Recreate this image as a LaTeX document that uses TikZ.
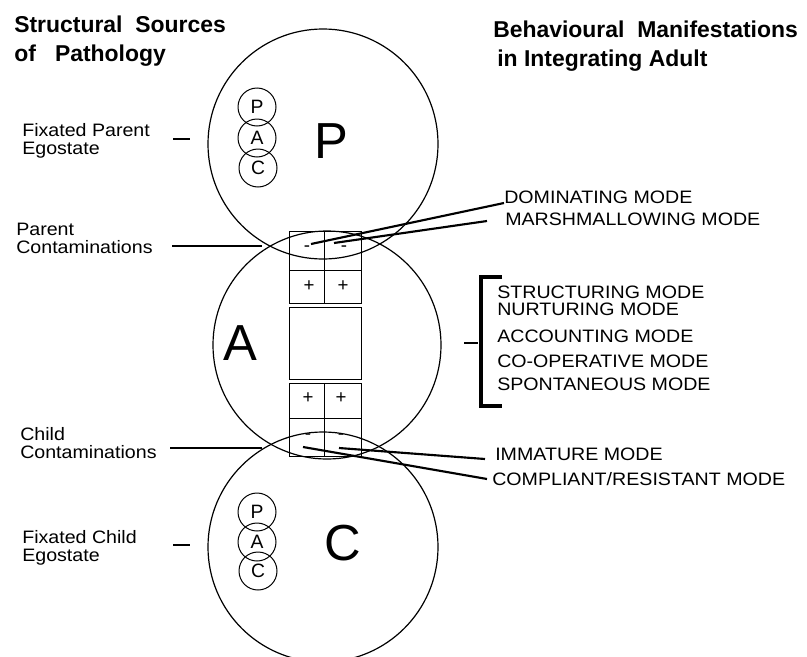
\documentclass[tikz,border=0pt]{standalone}
\usepackage{fontspec}
\setmainfont{Liberation Sans}
\newfontfamily\bodyfont{Liberation Sans}[FakeStretch=1.09]

\begin{document}
\begin{tikzpicture}[x=0.75pt, y=-0.75pt, font=\bodyfont\fontsize{13.5}{13.5}\selectfont]

        % Styles
        \tikzstyle{ego} = [circle, draw=black, line width=0.9pt, inner sep=0pt, outer sep=0pt]
        \tikzstyle{mini} = [circle, draw=black, line width=0.75pt, minimum size=28.5pt, inner sep=0pt, font=\normalfont\fontsize{14.5}{14.5}\selectfont]
        \tikzstyle{big} = [inner sep=0pt, font=\normalfont\fontsize{38}{38}\selectfont]
        \tikzstyle{head} = [anchor=north west, inner sep=0pt, align=left, font=\normalfont\bfseries\fontsize{17.2}{21.5}\selectfont]
        \tikzstyle{label} = [anchor=north west, inner sep=0pt, align=left]
        \tikzstyle{mode} = [anchor=base west, inner sep=0pt]
        \tikzstyle{sign} = [inner sep=0pt, font=\normalfont\fontsize{14}{14}\selectfont]
        \tikzstyle{cell} = [draw=black, line width=0.6pt]
        \tikzstyle{lead} = [line width=1.6pt]
        \tikzstyle{tick} = [line width=1.6pt]

        \useasboundingbox (0,0) rectangle (807,657);

        % Headings
        \node[head] (src) at (14,16) {Structural\ \ Sources\\of\ \ \ Pathology};
        \node[head] (beh) at (493,21) {Behavioural\ \ Manifestations\\\hspace{3pt}in Integrating Adult};

        % Egostates
        \node[ego, minimum size=172.5pt] (parent) at (323,144) {};
        \node[ego, minimum size=171pt] (adult) at (327,345) {};
        \node[ego, minimum size=172.5pt] (child) at (323,547) {};
        \node[big] (bigP) at (331,141) {P};
        \node[big] (bigA) at (240,343) {A};
        \node[big] (bigC) at (343,543) {C};

        % Fixated PAC in Parent and Child
        \node[mini] (pP) at (257,107) {P};
        \node[mini] (pA) at (257,138) {A};
        \node[mini] (pC) at (258,168) {C};
        \node[mini] (cP) at (257,512) {P};
        \node[mini] (cA) at (257,542) {A};
        \node[mini] (cC) at (258,571) {C};

        % Contamination grid
        \draw[cell] (289,231) rectangle (361,303);
        \draw[cell] (324,231) -- (324,303);
        \draw[cell] (289,270) -- (361,270);
        \draw[cell] (289,307) rectangle (361,379);
        \draw[cell] (289,383) rectangle (361,456);
        \draw[cell] (324,383) -- (324,456);
        \draw[cell] (289,418) -- (361,418);
        \node[sign] (pm1) at (307,249) {-};
        \node[sign] (pm2) at (344,249) {-};
        \node[sign] (pp1) at (309,286) {+};
        \node[sign] (pp2) at (343,286) {+};
        \node[sign] (cp1) at (308,398) {+};
        \node[sign] (cp2) at (341,398) {+};
        \node[sign] (cm1) at (308,437) {-};
        \node[sign] (cm2) at (341,437) {-};

        % Left labels
        \node[label] (fpe) at (22,123) {Fixated Parent\\Egostate};
        \node[label] (pco) at (16,223) {Parent\\Contaminations};
        \node[label] (cco) at (20,427) {Child\\Contaminations};
        \node[label] (fce) at (22,530) {Fixated Child\\Egostate};
        \coordinate (t1a) at (173,139); \coordinate (t1b) at (190,139);
        \coordinate (t2a) at (172,246); \coordinate (t2b) at (262,246);
        \coordinate (t3a) at (170,448); \coordinate (t3b) at (262,448);
        \coordinate (t4a) at (173,545); \coordinate (t4b) at (190,545);
        \draw[tick] (t1a) -- (t1b);
        \draw[tick] (t2a) -- (t2b);
        \draw[tick] (t3a) -- (t3b);
        \draw[tick] (t4a) -- (t4b);

        % Right labels
        \node[mode] (dom) at (504,203) {DOMINATING MODE};
        \node[mode] (mar) at (505,225) {MARSHMALLOWING MODE};
        \node[mode] (str) at (497,298) {STRUCTURING MODE};
        \node[mode] (nur) at (497,315) {NURTURING MODE};
        \node[mode] (acc) at (497,342) {ACCOUNTING MODE};
        \node[mode] (coo) at (497,367) {CO-OPERATIVE MODE};
        \node[mode] (spo) at (497,390) {SPONTANEOUS MODE};
        \node[mode] (imm) at (495,460) {IMMATURE MODE};
        \node[mode] (com) at (492,485) {COMPLIANT/RESISTANT MODE};

        % Bracket
        \draw[line width=2.4pt] (502,277) -- (481,277) -- (481,406) -- (502,406);
        \coordinate (b1) at (464,343); \coordinate (b2) at (478,343);
        \draw[tick] (b1) -- (b2);

        % Leaders
        \draw[lead] ([shift={(4,-5)}]pm1.center) -- (dom.base west);
        \draw[lead] ([shift={(-10,-6)}]pm2.center) -- ([shift={(-18,-4)}]mar.base west);
        \draw[lead] ([shift={(-2,11)}]cm2.center) -- ([shift={(-10,-1)}]imm.base west);
        \draw[lead] ([shift={(-5,10)}]cm1.center) -- ([shift={(-5,-6)}]com.base west);

    \end{tikzpicture}
\end{document}
